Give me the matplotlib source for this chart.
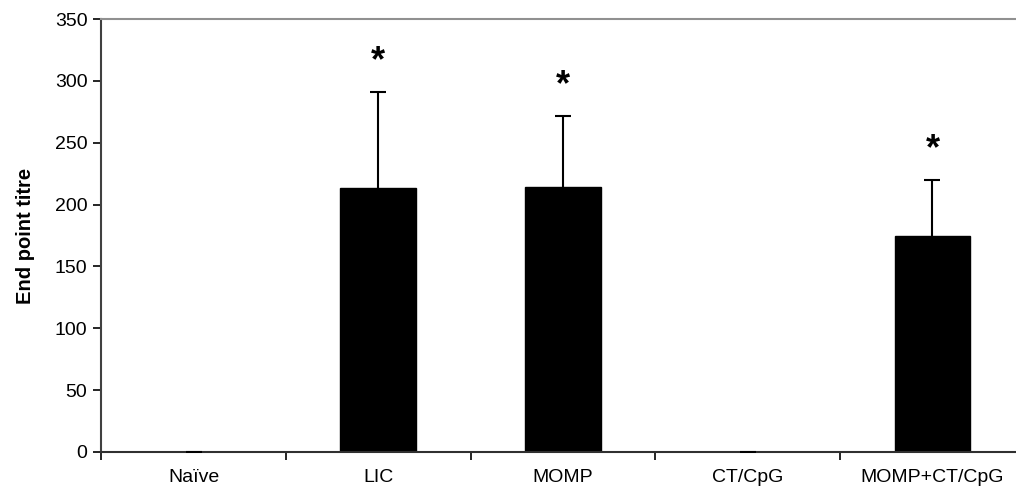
import matplotlib
matplotlib.use("Agg")
import matplotlib.pyplot as plt
import numpy as np

groups = ["Naïve", "LIC", "MOMP", "CT/CpG", "MOMP+CT/CpG"]
titre = [0, 213, 214, 0, 175]
sem = [0, 78, 58, 0, 45]
signif = [False, True, True, False, True]

plt.rcParams["font.family"] = ["Liberation Sans", "DejaVu Sans"]

fig = plt.figure(figsize=(10.16, 4.99), dpi=100)
ax = fig.add_axes([0.0997, 0.0942, 0.909, 0.8677])

x = np.arange(len(groups))
ax.bar(x, titre, width=0.41, color="black", edgecolor="black", zorder=2)
# upward-only error bars: hide the lower cap
_, caps, _ = ax.errorbar(x, titre, yerr=[np.zeros(len(sem)), sem], fmt="none",
                         ecolor="black", elinewidth=1.5, capsize=5.5,
                         capthick=1.5, zorder=3)
caps[0].set_visible(False)

for xi, v, e, s in zip(x, titre, sem, signif):
    if s:
        ax.annotate("*", (xi, v + e), xytext=(0, 9), textcoords="offset points",
                    ha="center", va="bottom", fontsize=26, fontweight="bold")

ax.set_xlim(-0.5, len(groups) - 0.5)
ax.set_ylim(0, 350)
ax.set_yticks(range(0, 351, 50))
ax.set_xticks(x)
ax.set_xticklabels(groups, fontsize=14)
ax.set_xticks(np.arange(-0.5, len(groups), 1), minor=True)
ax.tick_params(axis="x", which="major", length=0, pad=12)
ax.tick_params(axis="x", which="minor", length=6, width=1.2, color="black")
ax.tick_params(axis="y", labelsize=14, length=6, width=1.2, pad=4)
ax.set_ylabel("End point titre", fontsize=14.5, fontweight="bold", labelpad=14)

ax.spines["right"].set_visible(False)
ax.spines["top"].set_color("#909090")
ax.spines["top"].set_linewidth(1.5)
ax.spines["left"].set_color("#404040")
ax.spines["left"].set_linewidth(1.5)
ax.spines["bottom"].set_color("#303030")
ax.spines["bottom"].set_linewidth(1.5)

fig.savefig("out.png", dpi=100)
